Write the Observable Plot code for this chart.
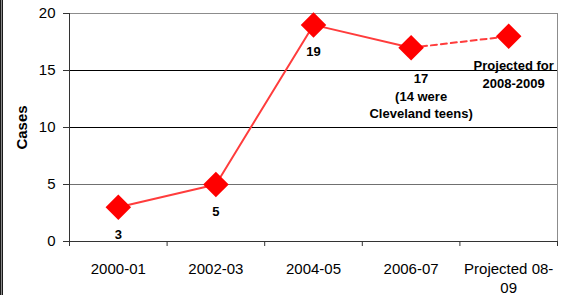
<!DOCTYPE html>
<html>
<head>
<meta charset="utf-8">
<script src="https://cdn.jsdelivr.net/npm/d3@7"></script>
<script src="https://cdn.jsdelivr.net/npm/@observablehq/plot@0.6"></script>
<style>
  html, body { margin: 0; padding: 0; background: #fff; }
  #chart svg { display: block; }
</style>
</head>
<body>
<div id="chart"></div>
<script>
const categories = ["2000-01", "2002-03", "2004-05", "2006-07", "Projected 08-\n09"];
const cases = [3, 5, 19, 17, 18];
const pointLabels = ["3", "5", "19", "17\n(14 were\nCleveland teens)", "Projected for\n2008-2009"];
const yTicks = [0, 5, 10, 15, 20];
const gridDark = [10, 15];
const gridLight = [5];

const data = categories.map((c, i) => ({i, category: c, cases: cases[i], label: pointLabels[i]}));
const idx = data.map(d => d.i);
const bounds = d3.range(categories.length + 1).map(k => k - 0.5);

const red = "#ff0000";
const lineRed = "#ff3c3c";

const chart = Plot.plot({
  width: 566,
  height: 295,
  marginLeft: 69,
  marginRight: 9,
  marginTop: 13,
  marginBottom: 54,
  style: {
    fontFamily: "'Liberation Sans', Arial, sans-serif",
    fontSize: "15px",
    color: "#000",
    background: "linear-gradient(to right, #1a1a1a 0 1px, #8a8a8a 1px 2px, #1a1a1a 2px 3px, #fff 3px)"
  },
  x: {type: "linear", domain: [-0.5, categories.length - 0.5], label: null},
  y: {domain: [0, 20], label: null},
  marks: [
    Plot.frame({stroke: "#8c8c8c"}),
    Plot.ruleY(gridDark, {stroke: "#000", strokeWidth: 1}),
    Plot.ruleY(gridLight, {stroke: "#707070", strokeWidth: 1}),
    Plot.ruleX([-0.5], {stroke: "#333"}),
    Plot.ruleY([0], {stroke: "#333"}),
    Plot.axisY(yTicks, {tickSize: 6, tickPadding: 8, fontSize: 15, stroke: "#333", fill: "#000", label: null}),
    Plot.axisX(bounds, {tickSize: 5, tickFormat: () => "", stroke: "#333", label: null}),
    Plot.axisX(idx, {tickSize: 0, tickPadding: 19, tickFormat: i => categories[i], fontSize: 15, lineHeight: 1.27, fill: "#000", label: null}),
    Plot.text(["Cases"], {frameAnchor: "left", textAnchor: "middle", rotate: -90, dx: -47, fontWeight: "bold", fontSize: 15, fill: "#000"}),
    Plot.line(data.slice(0, 4), {x: "i", y: "cases", stroke: lineRed, strokeWidth: 2}),
    Plot.line(data.slice(3), {x: "i", y: "cases", stroke: lineRed, strokeWidth: 2, strokeDasharray: "6,4"}),
    Plot.dot(data, {x: "i", y: "cases", symbol: "diamond2", r: 11.5, fill: red, stroke: "none"}),
    Plot.text(data.slice(0, 3), {x: "i", y: "cases", text: "label", lineAnchor: "top", dy: 22, fontWeight: "bold", fontSize: 13, fill: "#000"}),
    Plot.text(data.slice(3, 4), {x: "i", y: "cases", text: "label", lineAnchor: "top", dy: 23, dx: 10, lineHeight: 1.35, fontWeight: "bold", fontSize: 13, fill: "#000"}),
    Plot.text(data.slice(4), {x: "i", y: "cases", text: "label", lineAnchor: "top", dy: 21, dx: 5, lineHeight: 1.38, fontWeight: "bold", fontSize: 13, fill: "#000"})
  ]
});
document.getElementById("chart").append(chart);
</script>
</body>
</html>
